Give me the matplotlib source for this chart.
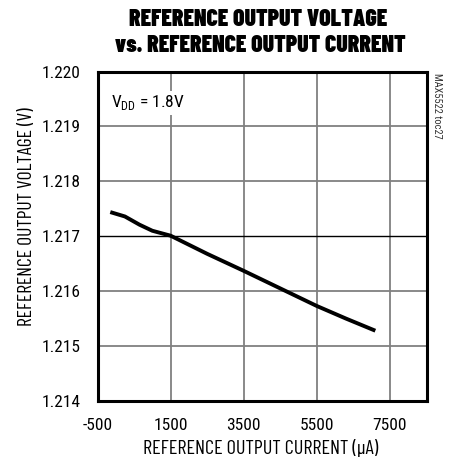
import matplotlib
matplotlib.use("Agg")
import matplotlib.pyplot as plt

TICKFONT = "Roboto Condensed"
LABELFONT = "Barlow Condensed"
plt.rcParams['font.family'] = [TICKFONT, 'DejaVu Sans']
plt.rcParams['mathtext.fontset'] = 'custom'
plt.rcParams['mathtext.rm'] = TICKFONT

current_uA = [-150, 250, 650, 1000, 1500, 2500, 3500, 4500, 5500, 6300, 7100]
voltage_V = [1.21744, 1.21736, 1.21721, 1.21710, 1.21701, 1.21668, 1.21637,
             1.21605, 1.21573, 1.21550, 1.21528]
x_ticks = [-500, 1500, 3500, 5500, 7500]
y_ticks = [1.214, 1.215, 1.216, 1.217, 1.218, 1.219, 1.220]

fig = plt.figure(figsize=(4.53, 4.57), dpi=100)
W, H = 453, 457
l, r, t, b = 97.5, 426.5, 71.5, 401
ax = fig.add_axes([l / W, 1 - b / H, (r - l) / W, (b - t) / H])
ax.set_xlim(-500, 8500)
ax.set_ylim(1.214, 1.220)
ax.set_xticks(x_ticks)
ax.set_yticks(y_ticks)
ax.set_xticklabels([str(v) for v in x_ticks])
ax.set_yticklabels([f"{v:.3f}" for v in y_ticks])
ax.tick_params(length=0, labelsize=12.5)
ax.tick_params(axis='y', pad=12)
ax.tick_params(axis='x', pad=12)

for xv in x_ticks[1:]:
    ax.axvline(xv, color='#808080', lw=1.3, zorder=1)
for yv in y_ticks[1:-1]:
    is_mid = abs(yv - 1.217) < 1e-9
    ax.axhline(yv, color='black' if is_mid else '#808080',
               lw=1.0 if is_mid else 1.3, zorder=1)

ax.plot(current_uA, voltage_V, color='black', lw=2.8, zorder=3,
        solid_capstyle='butt')

for s in ax.spines.values():
    s.set_linewidth(2.2)

ax.set_xlabel("REFERENCE OUTPUT CURRENT (\u03bcA)", fontsize=14.5, family=LABELFONT)
ax.set_ylabel("REFERENCE OUTPUT VOLTAGE (V)", fontsize=14.2, family=LABELFONT)
ax.xaxis.label.set_va('center')
ax.yaxis.label.set_va('center')
ax.xaxis.set_label_coords((261 - l) / (r - l), (b - 448) / (b - t))
ax.yaxis.set_label_coords((27.5 - l) / (r - l), (b - 217) / (b - t))

ax.text(0.04, 0.905, "V$_{\\mathrm{DD}}$ = 1.8V", transform=ax.transAxes,
        fontsize=12.5, va='center', ha='left',
        bbox=dict(facecolor='white', edgecolor='none', pad=2), zorder=4)

fig.text(437 / W, 1 - 73 / H, "MAX5522 toc27", rotation=270, fontsize=7.5,
         color='#333333', ha='center', va='top')

fig.text(258 / W, 1 - 20 / H, "REFERENCE OUTPUT VOLTAGE", fontsize=17,
         fontweight=900, family=LABELFONT, ha='center', va='center')
fig.text(260 / W, 1 - 45 / H, "vs. REFERENCE OUTPUT CURRENT", fontsize=17,
         fontweight=900, family=LABELFONT, ha='center', va='center')

fig.savefig("out.png", dpi=100)
